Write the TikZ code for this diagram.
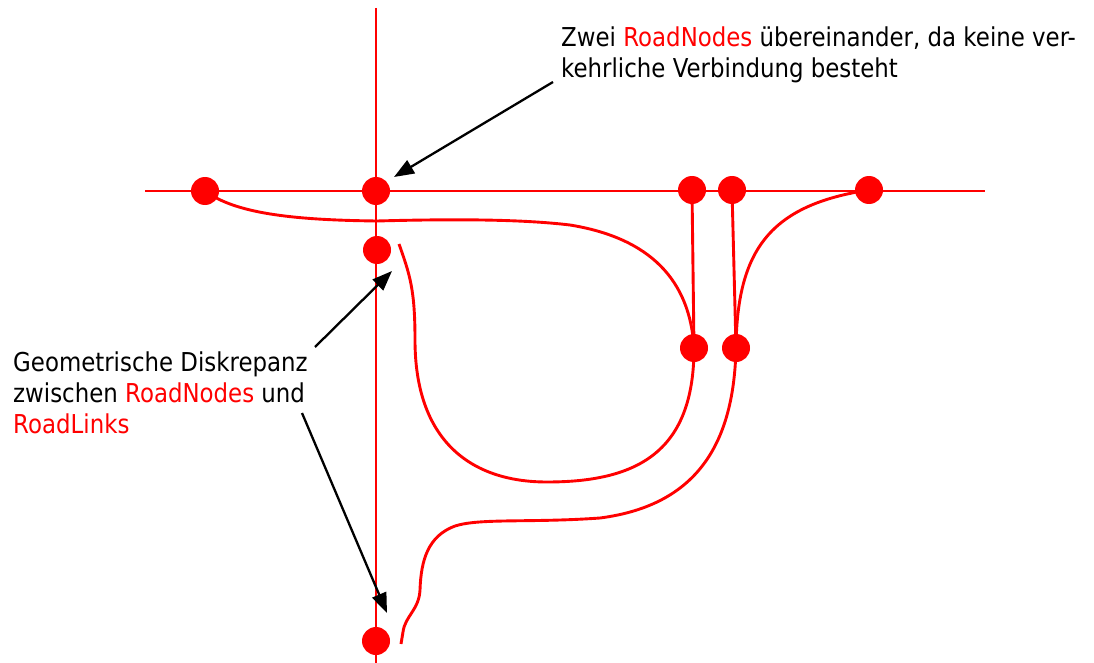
\documentclass[tikz,border=0pt]{standalone}
\usepackage{fontspec}
\newfontfamily\lblfont[FakeStretch=0.88]{DejaVu Sans}
\usetikzlibrary{arrows.meta}
\begin{document}
\begin{tikzpicture}[x=1pt,y=-1pt,
  road/.style={draw=red,line width=2.4pt},
  link/.style={draw=red,line width=2.9pt},
  rnode/.style={circle,fill=red,minimum size=28pt,inner sep=0pt},
  pointer/.style={draw=black,line width=2.3pt,-{Triangle[length=20pt,width=15pt]}},
  lbl/.style={font=\lblfont\fontsize{26}{31}\selectfont,align=left,inner sep=0pt,anchor=north west}]
\useasboundingbox (0,0) rectangle (1094,663);
% free ends
\coordinate (hl) at (145,191);
\coordinate (hr) at (985,191);
\coordinate (vt) at (376,8);
\coordinate (vb) at (376,663);
\coordinate (loopstart) at (399,244);
\coordinate (lowend) at (401,644);
% roads
\draw[road] (hl) -- (hr);
\draw[road] (vt) -- (vb);
% nodes
\node[rnode] (n1) at (205,191) {};
\node[rnode] (n2) at (376,191) {};
\node[rnode] (n3) at (377,250) {};
\node[rnode] (n4) at (692,190) {};
\node[rnode] (n5) at (732,190) {};
\node[rnode] (n6) at (869,190) {};
\node[rnode] (n7) at (694,348) {};
\node[rnode] (n8) at (736,348) {};
\node[rnode] (n9) at (376,641) {};
% links
\draw[link] (n4.center) -- (n7.center);
\draw[link] (n5.center) -- (n8.center);
\draw[link] (n1.center) .. controls (235,213) and (290,220) .. (377,221)
  .. controls (450,219) and (520,219) .. (570,225)
  .. controls (650,238) and (690,280) .. (n7.center);
\draw[link] (loopstart) .. controls (410,275) and (415,290) .. (415,340)
  .. controls (415,440) and (470,482) .. (547,482)
  .. controls (640,482) and (694,450) .. (n7.center);
\draw[link] (n6.center) .. controls (770,205) and (737,250) .. (n8.center);
\draw[link] (n8.center) .. controls (734,440) and (700,505) .. (600,518)
  .. controls (530,523) and (480,518) .. (455,526)
  .. controls (428,536) and (421,560) .. (420,590)
  .. controls (419,610) and (405,616) .. (403,632) -- (lowend);
% texts
\node[lbl] (t1) at (561,27) {Zwei \textcolor{red}{RoadNodes} übereinander, da keine ver-\\kehrliche Verbindung besteht};
\node[lbl] (t2) at (13,352) {Geometrische Diskrepanz\\zwischen \textcolor{red}{RoadNodes} und\\\textcolor{red}{RoadLinks}};
% pointers
\coordinate (a1s) at (553,82);
\coordinate (a1e) at (394,177);
\coordinate (a2s) at (315,347);
\coordinate (a2e) at (392,271);
\coordinate (a3s) at (302,413);
\coordinate (a3e) at (387,613);
\draw[pointer] (a1s) -- (a1e);
\draw[pointer] (a2s) -- (a2e);
\draw[pointer] (a3s) -- (a3e);
\end{tikzpicture}
\end{document}
